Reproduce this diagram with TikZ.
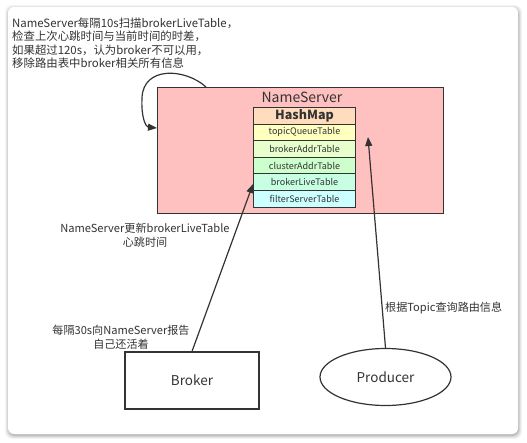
\documentclass[tikz,border=0pt]{standalone}
\usepackage{fontspec}
\setmainfont{Noto Sans CJK SC}
\usetikzlibrary{arrows.meta,shapes.geometric}
\definecolor{ln}{HTML}{333333}
\definecolor{txt}{HTML}{333333}
\definecolor{nsfill}{HTML}{FFC0C0}
\definecolor{rhash}{HTML}{FFDCBE}
\definecolor{rtopic}{HTML}{FFFFC0}
\definecolor{raddr}{HTML}{E6FFCC}
\definecolor{rcluster}{HTML}{CCFFCC}
\definecolor{rlive}{HTML}{C6FFE2}
\definecolor{rfilter}{HTML}{CCFFFF}
\tikzset{
  rowbox/.style={draw=ln, line width=1pt, minimum width=102pt, minimum height=16.6pt, inner sep=0pt, anchor=north west, font=\fontsize{9}{10}\selectfont, text=txt},
  lbl/.style={text=txt, inner sep=0pt, font=\fontsize{11.1}{13.8}\selectfont, align=center},
  conn/.style={draw=ln, line width=1.2pt, -{Triangle[length=9pt,width=7pt]}},
}
\begin{document}
\begin{tikzpicture}[x=1pt,y=-1pt]
\useasboundingbox (0,0) rectangle (527,443);
% card with shadow
\foreach \o/\a in {4/0.04,3/0.06,2/0.08,1/0.10}{
  \fill[black, opacity=\a, rounded corners=7pt] (8-\o+1,7-\o+2) rectangle (518+\o,434+\o+1);
}
\fill[white, rounded corners=6pt] (8,7) rectangle (518,434);
% top text
\node[lbl, anchor=north west, align=left, font=\fontsize{11.4}{13.4}\selectfont] (note) at (12,17.5)
  {NameServer每隔10s扫描brokerLiveTable，\\检查上次心跳时间与当前时间的时差，\\如果超过120s，认为broker不可以用，\\移除路由表中broker相关所有信息};
% NameServer box
\node[draw=ln, fill=nsfill, line width=1.2pt, minimum width=286pt, minimum height=126pt, anchor=north west, inner sep=0pt] (ns) at (157,87) {};
\node[lbl, font=\fontsize{14}{15}\selectfont] (nstitle) at (302,97) {NameServer};
% table
\node[rowbox, fill=rhash, font=\fontsize{12.5}{13}\bfseries\selectfont] (hm) at (253,107) {HashMap};
\node[rowbox, fill=rtopic] (tq) at (253,123.6) {topicQueueTable};
\node[rowbox, fill=raddr] (ba) at (253,140.2) {brokerAddrTable};
\node[rowbox, fill=rcluster] (ca) at (253,156.8) {clusterAddrTable};
\node[rowbox, fill=rlive] (bl) at (253,173.4) {brokerLiveTable};
\node[rowbox, fill=rfilter] (fs) at (253,190) {filterServerTable};
% broker and producer
\node[draw=ln, line width=1.2pt, minimum width=134pt, minimum height=57pt, inner sep=0pt, text=txt, font=\fontsize{13.5}{15}\selectfont] (broker) at (192,380.5) {Broker};
\node[draw=ln, ellipse, line width=1.2pt, minimum width=131pt, minimum height=57pt, inner sep=0pt, text=txt, font=\fontsize{13.5}{15}\selectfont] (producer) at (385.5,377) {Producer};
% connectors
\coordinate (loopstart) at (206,87);
\coordinate (looptip) at (157,128);
\draw[conn] (loopstart) .. controls (185,68) and (143,66) .. (142,98) .. controls (141,118) and (146,127) .. (looptip);
\coordinate (livetip) at (253,184);
\draw[conn] (broker.north) -- (livetip);
\coordinate (topictip) at (368,137);
\draw[conn] (producer.north) -- (topictip);
% labels
\node[lbl] (l1) at (145,235) {NameServer更新brokerLiveTable\\心跳时间};
\node[lbl] (l2) at (121,337) {每隔30s向NameServer报告\\自己还活着};
\node[lbl, anchor=west] (l3) at (385,308) {根据Topic查询路由信息};
\end{tikzpicture}
\end{document}
